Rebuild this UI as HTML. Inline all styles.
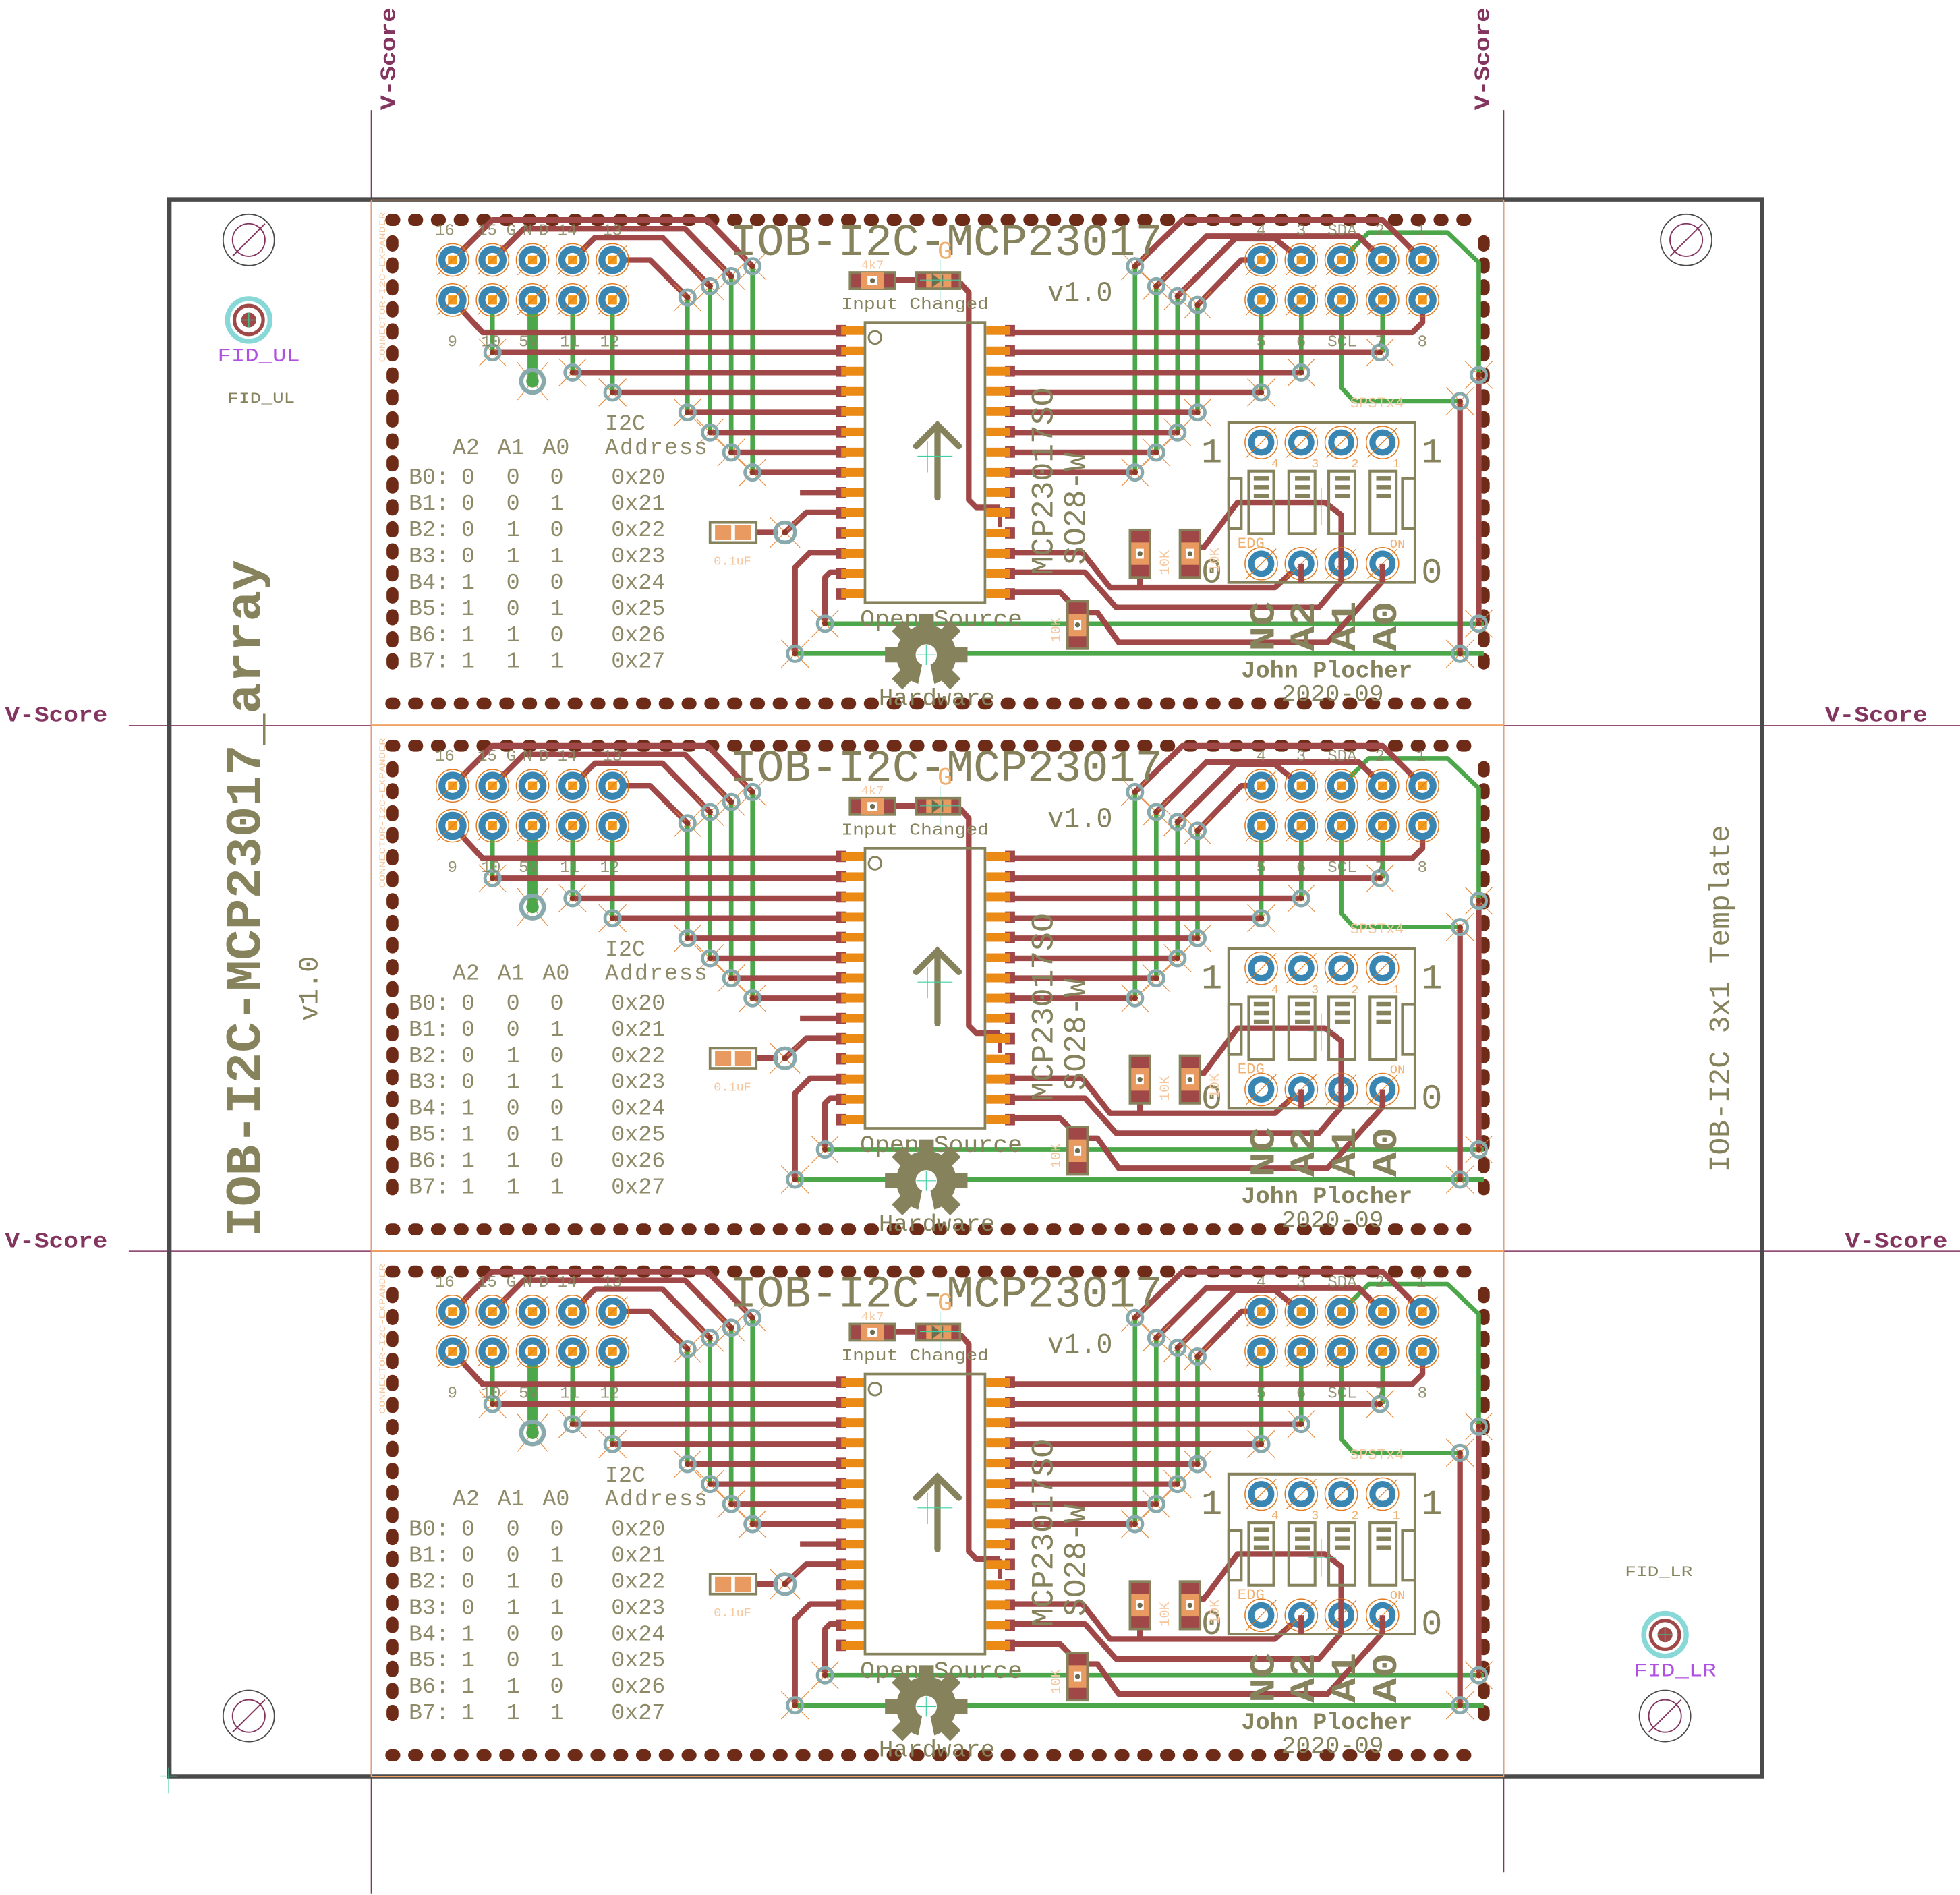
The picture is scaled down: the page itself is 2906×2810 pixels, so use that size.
<!DOCTYPE html>
<html><head><meta charset="utf-8"><style>
html,body{margin:0;padding:0;background:#fff}
svg{display:block}
text{font-family:"Liberation Mono","DejaVu Sans Mono",monospace}
</style></head><body>
<svg xmlns="http://www.w3.org/2000/svg" xmlns:xlink="http://www.w3.org/1999/xlink" width="2906" height="2810" viewBox="0 0 1568 1516.2">
<defs>
<g id="pin"><circle r="13" fill="none" stroke="#e07a20" stroke-width="0.8"/><circle r="8.5" fill="#fff" stroke="#3a86b2" stroke-width="5.5"/><rect x="-3.6" y="-3.6" width="7.2" height="7.2" fill="#f39a1a"/><path d="M-12 12L12 -12" stroke="#e07a20" stroke-width="0.6"/></g>
<g id="dpin"><circle r="13" fill="none" stroke="#e07a20" stroke-width="0.8"/><circle r="8" fill="#fff" stroke="#3a86b2" stroke-width="5"/><path d="M-12 12L12 -12" stroke="#e07a20" stroke-width="0.6"/></g>
<g id="via"><path d="M-11 -11L11 11M-11 11L11 -11" stroke="#e8893a" stroke-width="0.6"/><circle r="6" fill="none" stroke="#88aaac" stroke-width="2.6"/><circle r="2.3" fill="#8b3a2a"/></g>
<g id="resv"><rect x="-8" y="-19" width="16" height="38" fill="#a04848" stroke="#85825c" stroke-width="2"/><rect x="-7" y="-9" width="14" height="18" fill="#e89a60"/><rect x="-3" y="-4" width="6" height="8" fill="#fff"/><circle r="2" fill="#6e6c50"/></g>
<g id="gear"><g fill="#85825c"><circle r="24"/>
<rect x="-6" y="-33" width="12" height="14"/><rect x="-6" y="-33" width="12" height="14" transform="rotate(45)"/><rect x="-6" y="-33" width="12" height="14" transform="rotate(90)"/><rect x="-6" y="-33" width="12" height="14" transform="rotate(135)"/><rect x="-6" y="-33" width="12" height="14" transform="rotate(-45)"/><rect x="-6" y="-33" width="12" height="14" transform="rotate(-90)"/><rect x="-6" y="-33" width="12" height="14" transform="rotate(-135)"/></g>
<circle r="8.5" fill="#fff"/><path d="M-3 6L-7 26L7 26L3 6Z" fill="#fff"/></g>

<g id="panel">
<rect x="297" y="160" width="906" height="420" fill="none" stroke="#f0a060" stroke-width="0.8"/>
<g stroke="#6e2c18" stroke-width="9.5" stroke-linecap="round" fill="none">
<line x1="313" y1="176" x2="1188" y2="176" stroke-dasharray="2.5 15.73"/>
<line x1="313" y1="563" x2="1188" y2="563" stroke-dasharray="2.5 15.73"/>
<line x1="314" y1="193" x2="314" y2="545" stroke-dasharray="3.5 14.1"/>
<line x1="1187" y1="193" x2="1187" y2="545" stroke-dasharray="3.5 14.1"/>
</g>
<g stroke="#4ca64a" stroke-width="3.6" fill="none" stroke-linejoin="round">
<path d="M394 240V282M458 240V298M490 240V314"/>
<path d="M550 238V330M568 229V346M585 221V362M602 213V378"/>
<path d="M908 213V378M925 229V362M942 237V346M958 244V330"/>
<path d="M1009 240V314M1041 240V298M1106 240V282"/>
<path d="M1073 208L1095 186H1158L1183 210V300"/>
<path d="M1073 240V310L1083 321H1168"/>
<path d="M660 499H1187M636 523H1187"/>
</g>
<path d="M426 240V305" stroke="#4ca64a" stroke-width="8"/>
<g stroke="#a04848" stroke-width="4.5" fill="none" stroke-linejoin="round">
<path d="M362 240L386 266H672"/>
<path d="M394 282H672M458 298H672M490 314H672M550 330H672M568 346H672M585 362H672M602 378H672M640 394H672"/>
<path d="M628 426L645 410H672"/>
<path d="M672 442H648L636 454V523"/>
<path d="M672 458H664L660 462V499"/>
<path d="M362 208L394 176H566L602 213"/>
<path d="M394 208L419 183H548L585 221"/>
<path d="M458 208L476 190H530L568 229"/>
<path d="M490 208H520L550 238"/>
<path d="M810 266H1130L1138 258V240"/>
<path d="M810 282H1104M810 298H1041M810 314H1009M810 330H958M810 346H942M810 362H925M810 378H908"/>
<path d="M908 213L946 176H1106L1138 208"/>
<path d="M925 229L965 189H1087L1106 208"/>
<path d="M942 237L988 191H1020L1041 208"/>
<path d="M958 244L993 208H1009"/>
<path d="M1183 300V499M1168 321V523"/>
<path d="M716 224H733"/>
<path d="M768 226L775 234V400L781 406H800"/>
<path d="M800 406V422" stroke-width="3.5"/>
<path d="M810 442H866L888 470H1020L1041 451"/>
<path d="M912 461V470"/>
<path d="M810 458H868L893 486H1055L1073 465V412L1060 402H990L963 438H958"/>
<path d="M810 474H848L858 484"/>
<path d="M870 490H878L895 514H1062L1106 465V451"/>
<path d="M605 426H622"/>
</g>
<use xlink:href="#pin" x="362" y="208"/><use xlink:href="#pin" x="394" y="208"/><use xlink:href="#pin" x="426" y="208"/><use xlink:href="#pin" x="458" y="208"/><use xlink:href="#pin" x="490" y="208"/>
<use xlink:href="#pin" x="362" y="240"/><use xlink:href="#pin" x="394" y="240"/><use xlink:href="#pin" x="426" y="240"/><use xlink:href="#pin" x="458" y="240"/><use xlink:href="#pin" x="490" y="240"/>
<use xlink:href="#pin" x="1009" y="208"/><use xlink:href="#pin" x="1041" y="208"/><use xlink:href="#pin" x="1073" y="208"/><use xlink:href="#pin" x="1106" y="208"/><use xlink:href="#pin" x="1138" y="208"/>
<use xlink:href="#pin" x="1009" y="240"/><use xlink:href="#pin" x="1041" y="240"/><use xlink:href="#pin" x="1073" y="240"/><use xlink:href="#pin" x="1106" y="240"/><use xlink:href="#pin" x="1138" y="240"/>
<use xlink:href="#via" x="394" y="282"/><use xlink:href="#via" x="458" y="298"/><use xlink:href="#via" x="490" y="314"/>
<use xlink:href="#via" x="550" y="238"/><use xlink:href="#via" x="568" y="229"/><use xlink:href="#via" x="585" y="221"/><use xlink:href="#via" x="602" y="213"/>
<use xlink:href="#via" x="550" y="330"/><use xlink:href="#via" x="568" y="346"/><use xlink:href="#via" x="585" y="362"/><use xlink:href="#via" x="602" y="378"/>
<use xlink:href="#via" x="908" y="213"/><use xlink:href="#via" x="925" y="229"/><use xlink:href="#via" x="942" y="237"/><use xlink:href="#via" x="958" y="244"/>
<use xlink:href="#via" x="908" y="378"/><use xlink:href="#via" x="925" y="362"/><use xlink:href="#via" x="942" y="346"/><use xlink:href="#via" x="958" y="330"/>
<use xlink:href="#via" x="1009" y="314"/><use xlink:href="#via" x="1041" y="298"/><use xlink:href="#via" x="1104" y="282"/>
<use xlink:href="#via" x="1183" y="300"/><use xlink:href="#via" x="1168" y="321"/><use xlink:href="#via" x="1183" y="499"/><use xlink:href="#via" x="1168" y="523"/>
<use xlink:href="#via" x="660" y="499"/><use xlink:href="#via" x="636" y="523"/>
<path d="M414 290L438 320M414 320L438 290" stroke="#e8893a" stroke-width="0.6"/>
<circle cx="426" cy="305" r="9" fill="none" stroke="#88aaac" stroke-width="3.5"/><circle cx="426" cy="305" r="5" fill="#4ca64a"/>
<path d="M616 414L640 438M616 438L640 414" stroke="#e8893a" stroke-width="0.6"/>
<circle cx="628" cy="426" r="8" fill="none" stroke="#88aaac" stroke-width="3"/><circle cx="628" cy="426" r="2.5" fill="#8b3a2a"/>
<g id="lp">
<g fill="#a04848"><rect x="669" y="260" width="8" height="9"/><rect x="669" y="276.2" width="8" height="9"/><rect x="669" y="292.4" width="8" height="9"/><rect x="669" y="308.6" width="8" height="9"/><rect x="669" y="324.8" width="8" height="9"/><rect x="669" y="341" width="8" height="9"/><rect x="669" y="357.2" width="8" height="9"/><rect x="669" y="373.4" width="8" height="9"/><rect x="669" y="389.6" width="8" height="9"/><rect x="669" y="405.8" width="8" height="9"/><rect x="669" y="422" width="8" height="9"/><rect x="669" y="438.2" width="8" height="9"/><rect x="669" y="454.4" width="8" height="9"/><rect x="669" y="470.6" width="8" height="9"/></g>
<g fill="#ec8a16"><rect x="673" y="261" width="19" height="7"/><rect x="673" y="277.2" width="19" height="7"/><rect x="673" y="293.4" width="19" height="7"/><rect x="673" y="309.6" width="19" height="7"/><rect x="673" y="325.8" width="19" height="7"/><rect x="673" y="342" width="19" height="7"/><rect x="673" y="358.2" width="19" height="7"/><rect x="673" y="374.4" width="19" height="7"/><rect x="673" y="390.6" width="19" height="7"/><rect x="673" y="406.8" width="19" height="7"/><rect x="673" y="423" width="19" height="7"/><rect x="673" y="439.2" width="19" height="7"/><rect x="673" y="455.4" width="19" height="7"/><rect x="673" y="471.6" width="19" height="7"/></g>
</g>
<use xlink:href="#lp" transform="translate(1481 0) scale(-1 1)"/>
<rect x="692" y="258" width="96" height="224" fill="none" stroke="#85825c" stroke-width="2"/>
<circle cx="700" cy="270" r="5" fill="none" stroke="#85825c" stroke-width="1.6"/>
<path d="M750 398V340M733 357L750 340L767 357" stroke="#85825c" stroke-width="5" fill="none" stroke-linecap="round"/>
<path d="M734 365H762M742 353V378" stroke="#40d0a0" stroke-width="0.6"/>
<rect x="680" y="218" width="36" height="13" fill="#a04848" stroke="#85825c" stroke-width="2"/>
<rect x="689" y="218" width="18" height="13" fill="#e89a60"/><rect x="694" y="221" width="8" height="7" fill="#fff"/><circle cx="698" cy="224.5" r="2" fill="#6e6c50"/>
<rect x="733" y="218" width="35" height="13" fill="#a04848" stroke="#85825c" stroke-width="2"/>
<rect x="741" y="219" width="20" height="11" fill="#e89a60"/><path d="M746 220L752 224.5L746 229ZM754 220V229" fill="#6e6c50" stroke="#6e6c50"/>
<path d="M752 208V240M736 224H768" stroke="#40d0a0" stroke-width="0.6"/>
<rect x="568" y="418" width="37" height="16" fill="#fff" stroke="#85825c" stroke-width="2"/>
<rect x="572" y="420" width="13" height="12" fill="#e89a60"/><rect x="588" y="420" width="13" height="12" fill="#e89a60"/>
<use xlink:href="#resv" x="912" y="443"/><use xlink:href="#resv" x="952" y="443"/><use xlink:href="#resv" x="862" y="500"/>
<g fill="none" stroke="#85825c" stroke-width="2.2">
<rect x="983" y="338" width="149" height="128"/>
<rect x="999" y="377" width="20" height="50"/><rect x="1031" y="377" width="21" height="50"/><rect x="1063" y="377" width="21" height="50"/><rect x="1096" y="377" width="21" height="50"/>
<rect x="983" y="383" width="10" height="40"/><rect x="1122" y="383" width="10" height="40"/>
</g>
<g fill="#85825c">
<rect x="1003" y="381" width="12" height="3.5"/><rect x="1003" y="388" width="12" height="3.5"/><rect x="1003" y="395" width="12" height="3.5"/>
<rect x="1036" y="381" width="12" height="3.5"/><rect x="1036" y="388" width="12" height="3.5"/><rect x="1036" y="395" width="12" height="3.5"/>
<rect x="1068" y="381" width="12" height="3.5"/><rect x="1068" y="388" width="12" height="3.5"/><rect x="1068" y="395" width="12" height="3.5"/>
<rect x="1101" y="381" width="12" height="3.5"/><rect x="1101" y="388" width="12" height="3.5"/><rect x="1101" y="395" width="12" height="3.5"/>
</g>
<path d="M1057 390V420M1047 405H1069" stroke="#40d0a0" stroke-width="0.6"/>
<use xlink:href="#dpin" x="1009" y="354"/><use xlink:href="#dpin" x="1041" y="354"/><use xlink:href="#dpin" x="1073" y="354"/><use xlink:href="#dpin" x="1106" y="354"/>
<use xlink:href="#dpin" x="1009" y="451"/><use xlink:href="#dpin" x="1041" y="451"/><use xlink:href="#dpin" x="1073" y="451"/><use xlink:href="#dpin" x="1106" y="451"/>
<g stroke="#a04848" stroke-width="4.5" fill="none"><path d="M1041 451V466M1073 438V466M1106 451V466"/></g>
<use xlink:href="#gear" x="741" y="524"/>
<path d="M733 524H749M741 516V532" stroke="#40d0a0" stroke-width="0.6"/>
</g>
</defs>

<g stroke="#833560" stroke-width="0.8">
<line x1="297" y1="88" x2="297" y2="1515"/>
<line x1="1203" y1="88" x2="1203" y2="1498"/>
<line x1="103" y1="580.5" x2="1568" y2="580.5"/>
<line x1="103" y1="1001" x2="1568" y2="1001"/>
</g>
<rect x="135.5" y="159.5" width="1274" height="1262" fill="none" stroke="#4a4a4a" stroke-width="3.5"/>

<use xlink:href="#panel"/>
<use xlink:href="#panel" y="420.7"/>
<use xlink:href="#panel" y="841.4"/>

<g fill="#833560" font-size="17" font-weight="bold">
<text transform="translate(316 88) rotate(-90)" textLength="82" lengthAdjust="spacingAndGlyphs">V-Score</text>
<text transform="translate(1191 88) rotate(-90)" textLength="82" lengthAdjust="spacingAndGlyphs">V-Score</text>
<text x="4" y="577" textLength="82" lengthAdjust="spacingAndGlyphs">V-Score</text>
<text x="1460" y="577" textLength="82" lengthAdjust="spacingAndGlyphs">V-Score</text>
<text x="4" y="998" textLength="82" lengthAdjust="spacingAndGlyphs">V-Score</text>
<text x="1476" y="998" textLength="82" lengthAdjust="spacingAndGlyphs">V-Score</text>
</g>

<g fill="#85825c">
<text transform="translate(208 990) rotate(-90)" font-size="40" font-weight="bold" textLength="542" lengthAdjust="spacingAndGlyphs">IOB-I2C-MCP23017_array</text>
<text transform="translate(254 817) rotate(-90)" font-size="22" textLength="52" lengthAdjust="spacingAndGlyphs">v1.0</text>
<text transform="translate(1383 938) rotate(-90)" font-size="23" textLength="278" lengthAdjust="spacingAndGlyphs">IOB-I2C 3x1 Template</text>
<text x="182" y="322" font-size="12" textLength="54" lengthAdjust="spacingAndGlyphs">FID_UL</text>
<text x="1300" y="1261" font-size="12" textLength="54" lengthAdjust="spacingAndGlyphs">FID_LR</text>
</g>
<g fill="#b050e0" font-size="15">
<text x="174" y="289" textLength="66" lengthAdjust="spacingAndGlyphs">FID_UL</text>
<text x="1307" y="1341" textLength="66" lengthAdjust="spacingAndGlyphs">FID_LR</text>
</g>
<g>
<circle cx="199" cy="256" r="17" fill="none" stroke="#88d8d8" stroke-width="4"/><circle cx="199" cy="256" r="11.5" fill="none" stroke="#a04848" stroke-width="2.8"/><circle cx="199" cy="256" r="6" fill="#a04848"/><path d="M193 256H205M199 250V262" stroke="#40c090" stroke-width="0.8"/>
<circle cx="1332" cy="1308" r="17" fill="none" stroke="#88d8d8" stroke-width="4"/><circle cx="1332" cy="1308" r="11.5" fill="none" stroke="#a04848" stroke-width="2.8"/><circle cx="1332" cy="1308" r="6" fill="#a04848"/><path d="M1326 1308H1338M1332 1302V1314" stroke="#40c090" stroke-width="0.8"/>
</g>
<g fill="none" stroke-width="1">
<g transform="translate(199 192)"><circle r="20.5" stroke="#4a4a4a"/><circle r="13" stroke="#833560"/><path d="M-13 13L13 -13" stroke="#833560"/></g>
<g transform="translate(1349 192)"><circle r="20.5" stroke="#4a4a4a"/><circle r="13" stroke="#833560"/><path d="M-13 13L13 -13" stroke="#833560"/></g>
<g transform="translate(199 1373)"><circle r="20.5" stroke="#4a4a4a"/><circle r="13" stroke="#833560"/><path d="M-13 13L13 -13" stroke="#833560"/></g>
<g transform="translate(1332 1373)"><circle r="20.5" stroke="#4a4a4a"/><circle r="13" stroke="#833560"/><path d="M-13 13L13 -13" stroke="#833560"/></g>
</g>
<path d="M128 1421H142M135 1414V1435" stroke="#40d0a0" stroke-width="0.8"/>

<g id="t1">
<text transform="translate(308 290) rotate(-90)" font-size="7" fill="#f5c8a0" textLength="120" lengthAdjust="spacingAndGlyphs">CONNECTOR-I2C-EXPANDER</text>
<g fill="#85825c" font-size="13" opacity="0.85">
<text x="348" y="188">16</text><text x="382" y="188">15</text><text x="405" y="188" textLength="34">GND</text><text x="446" y="188">14</text><text x="482" y="188">13</text>
<text x="358" y="277">9</text><text x="385" y="277">10</text><text x="415" y="277">5V</text><text x="448" y="277">11</text><text x="480" y="277">12</text>
<text x="1005" y="188">4</text><text x="1037" y="188">3</text><text x="1062" y="188">SDA</text><text x="1100" y="188">2</text><text x="1133" y="188">1</text>
<text x="1005" y="277">5</text><text x="1037" y="277">6</text><text x="1062" y="277">SCL</text><text x="1100" y="277">7</text><text x="1134" y="277">8</text>
</g>
<text x="584" y="204" font-size="36" fill="#85825c" textLength="346" lengthAdjust="spacingAndGlyphs">IOB-I2C-MCP23017</text>
<text x="838" y="241" font-size="23" fill="#85825c" textLength="52" lengthAdjust="spacingAndGlyphs">v1.0</text>
<text x="673" y="247" font-size="13" fill="#85825c" textLength="118" lengthAdjust="spacingAndGlyphs">Input Changed</text>
<text x="689" y="215" font-size="10" fill="#f5c8a0">4k7</text>
<text x="750" y="207" font-size="20" fill="#f0b070">G</text>
<g fill="#8e8a68" font-size="18">
<text x="484" y="344">I2C</text>
<text x="362" y="363">A2</text><text x="398" y="363">A1</text><text x="434" y="363">A0</text>
<text x="484" y="363" textLength="82">Address</text>
<g>
<text x="327" y="387">B0:</text><text x="369" y="387">0</text><text x="405" y="387">0</text><text x="440" y="387">0</text><text x="489" y="387">0x20</text>
<text x="327" y="408">B1:</text><text x="369" y="408">0</text><text x="405" y="408">0</text><text x="440" y="408">1</text><text x="489" y="408">0x21</text>
<text x="327" y="429">B2:</text><text x="369" y="429">0</text><text x="405" y="429">1</text><text x="440" y="429">0</text><text x="489" y="429">0x22</text>
<text x="327" y="450">B3:</text><text x="369" y="450">0</text><text x="405" y="450">1</text><text x="440" y="450">1</text><text x="489" y="450">0x23</text>
<text x="327" y="471">B4:</text><text x="369" y="471">1</text><text x="405" y="471">0</text><text x="440" y="471">0</text><text x="489" y="471">0x24</text>
<text x="327" y="492">B5:</text><text x="369" y="492">1</text><text x="405" y="492">0</text><text x="440" y="492">1</text><text x="489" y="492">0x25</text>
<text x="327" y="513">B6:</text><text x="369" y="513">1</text><text x="405" y="513">1</text><text x="440" y="513">0</text><text x="489" y="513">0x26</text>
<text x="327" y="534">B7:</text><text x="369" y="534">1</text><text x="405" y="534">1</text><text x="440" y="534">1</text><text x="489" y="534">0x27</text>
</g>
</g>
<text x="571" y="452" font-size="10" fill="#f5c8a0">0.1uF</text>
<g fill="#85825c">
<text transform="translate(842 460) rotate(-90)" font-size="25" textLength="150" lengthAdjust="spacingAndGlyphs">MCP23017SO</text>
<text transform="translate(868 452) rotate(-90)" font-size="25" textLength="90" lengthAdjust="spacingAndGlyphs">SO28-W</text>
<text x="688" y="501" font-size="19" textLength="130" lengthAdjust="spacingAndGlyphs">Open Source</text>
<text x="703" y="564" font-size="19" textLength="93" lengthAdjust="spacingAndGlyphs">Hardware</text>
<text x="961" y="370" font-size="28">1</text><text x="1137" y="370" font-size="28">1</text>
<text x="961" y="466" font-size="28">0</text><text x="1137" y="466" font-size="28">0</text>
<text transform="translate(1019 521) rotate(-90)" font-size="28" font-weight="bold" textLength="40" lengthAdjust="spacingAndGlyphs">NC</text>
<text transform="translate(1051 521) rotate(-90)" font-size="28" font-weight="bold" textLength="40" lengthAdjust="spacingAndGlyphs">A2</text>
<text transform="translate(1084 521) rotate(-90)" font-size="28" font-weight="bold" textLength="40" lengthAdjust="spacingAndGlyphs">A1</text>
<text transform="translate(1117 521) rotate(-90)" font-size="28" font-weight="bold" textLength="40" lengthAdjust="spacingAndGlyphs">A0</text>
<text x="993" y="542" font-size="19" font-weight="bold" textLength="137" lengthAdjust="spacingAndGlyphs">John Plocher</text>
<text x="1025" y="561" font-size="19" textLength="82" lengthAdjust="spacingAndGlyphs">2020-09</text>
</g>
<g fill="#f0b070" font-size="10">
<text x="1017" y="374">4</text><text x="1049" y="374">3</text><text x="1081" y="374">2</text><text x="1114" y="374">1</text>
<text x="990" y="438" font-size="12">EDG</text><text x="1112" y="438">ON</text>
<text x="1080" y="326" font-size="12" fill="#f5c8a0">SPSTx4</text>
</g>
<g fill="#f5c8a0" font-size="11">
<text transform="translate(935 460) rotate(-90)">10K</text>
<text transform="translate(975 458) rotate(-90)">10K</text>
<text transform="translate(848 514) rotate(-90)">10K</text>
</g>
</g>
<use xlink:href="#t1" y="420.7"/>
<use xlink:href="#t1" y="841.4"/>
</svg>
</body></html>
